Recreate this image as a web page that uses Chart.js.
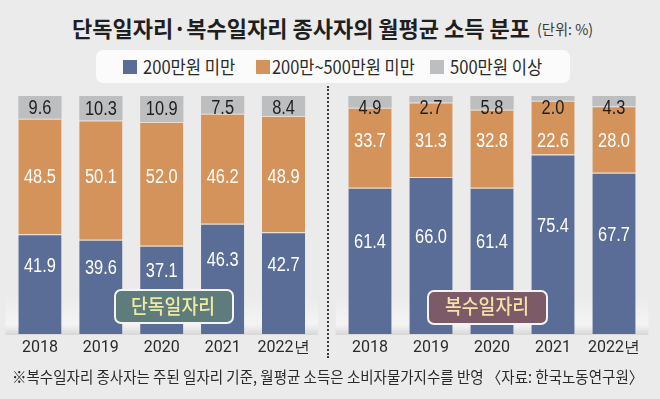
<!DOCTYPE html>
<html>
<head>
<meta charset="utf-8">
<script src="https://cdn.jsdelivr.net/npm/chart.js@4"></script>
<style>
  body { margin: 0; width: 660px; height: 399px; background: #ebebeb; position: relative; overflow: hidden; font-family: "Noto Sans CJK KR", sans-serif; }
  .txt { position: absolute; white-space: nowrap; transform-origin: 0 0; z-index: 3; }
  .wrap { position: absolute; top: 85px; width: 330px; height: 290px; z-index: 1; }
  #legend { position: absolute; left: 96px; top: 50px; width: 474px; height: 33px; background: #fbfbfb; border-radius: 7px; }
  .swatch { position: absolute; width: 14px; height: 14px; top: 60px; }
  .tag { position: absolute; height: 31px; border: 2px solid #f4f4f4; border-radius: 7px; z-index: 2; }
  #sep { position: absolute; left: 327px; top: 86px; height: 272px; border-left: 2px dotted #3a3a3a; }
</style>
</head>
<body>
<div id="legend"></div>
<div class="tag" style="left:114px;top:289px;width:116px;background:#5e7c7b"></div>
<div class="tag" style="left:427px;top:290px;width:117px;background:#7d5a68"></div>
<div class="wrap" style="left:0"><canvas id="solo"></canvas></div>
<div class="wrap" style="left:330px"><canvas id="multi"></canvas></div>
<div id="sep"></div>

<script>
// data
const years = ["2018", "2019", "2020", "2021", "2022년"];
const seriesNames = ["200만원 미만", "200만~500만원 미만", "500만원 이상"];
const groupNames = ["단독일자리", "복수일자리"];
const soloUnder200 = [41.9, 39.6, 37.1, 46.3, 42.7];
const solo200to500 = [48.5, 50.1, 52.0, 46.2, 48.9];
const solo500plus = [9.6, 10.3, 10.9, 7.5, 8.4];
const multiUnder200 = [61.4, 66.0, 61.4, 75.4, 67.7];
const multi200to500 = [33.7, 31.3, 32.8, 22.6, 28.0];
const multi500plus = [4.9, 2.7, 5.8, 2.0, 4.3];

const colors = ["#5a6d97", "#d4935a", "#bdbec0"];
const labelColors = ["#ffffff", "#ffffff", "#1e1e1e"];

// html text, squeezed to the width it has in the picture
function place(text, x, cy, size, weight, color, width) {
  const el = document.createElement("span");
  el.className = "txt";
  el.textContent = text;
  el.style.left = x + "px";
  el.style.top = (cy - size * 0.56) + "px";
  el.style.fontSize = size + "px";
  el.style.lineHeight = size + "px";
  el.style.fontWeight = weight;
  el.style.color = color;
  document.body.appendChild(el);
  el.style.transform = "scaleX(" + (width / el.offsetWidth) + ")";
  return el;
}

place("단독일자리·복수일자리  종사자의 월평균 소득 분포", 72, 28, 22, 700, "#1f1f1f", 458);
place("(단위: %)", 537, 29, 15, 400, "#3a3a3a", 56);

// legend
const legendPos = [[123, 143, 92], [256, 272, 143], [430, 450, 92]];
seriesNames.forEach((name, i) => {
  const [sx, tx, w] = legendPos[i];
  const sw = document.createElement("div");
  sw.className = "swatch";
  sw.style.left = sx + "px";
  sw.style.background = colors[i];
  document.body.appendChild(sw);
  place(name, tx, 67, 18, 400, "#2a2a2a", w);
});

place(groupNames[0], 131, 307, 20, 500, "#efe9a2", 84);
place(groupNames[1], 445, 307, 20, 500, "#f4e2a8", 84);
place("※복수일자리 종사자는 주된 일자리 기준, 월평균 소득은 소비자물가지수를 반영 〈자료: 한국노동연구원〉", 12, 377, 16, 400, "#2a2a2a", 631);

// soft platform under the bars
const platform = {
  id: "platform",
  beforeDatasetsDraw(chart) {
    const { ctx, chartArea: a } = chart;
    const g = ctx.createLinearGradient(0, a.bottom - 40, 0, a.bottom);
    g.addColorStop(0, "rgba(255,255,255,0)");
    g.addColorStop(0.75, "rgba(255,255,255,0.45)");
    g.addColorStop(1, "rgba(205,205,205,0.6)");
    ctx.save();
    ctx.fillStyle = g;
    ctx.fillRect(a.left - 4, a.bottom - 40, a.right - a.left + 8, 41);
    ctx.restore();
  }
};

// numbers on the segments
const valueLabels = {
  id: "valueLabels",
  afterDatasetsDraw(chart) {
    const { ctx, chartArea: a } = chart;
    const metas = chart.data.datasets.map((d, i) => chart.getDatasetMeta(i));
    const mid = metas[1].data;
    const rowY = mid.reduce((s, b) => s + (b.y + b.base) / 2, 0) / mid.length;
    ctx.save();
    ctx.font = '20px "Liberation Sans"';
    ctx.textAlign = "center";
    ctx.textBaseline = "middle";
    metas.forEach((meta, di) => {
      meta.data.forEach((bar, i) => {
        const v = chart.data.datasets[di].data[i];
        let y;
        if (di === 0) y = (bar.y + a.bottom - 38) / 2;
        else if (di === 1) y = rowY;
        else y = Math.max((bar.y + bar.base) / 2, bar.y + 11);
        ctx.fillStyle = labelColors[di];
        ctx.save();
        ctx.translate(bar.x, y + 1);
        ctx.scale(0.82, 1);
        ctx.fillText(v.toFixed(1), 0, 0);
        ctx.restore();
      });
    });
    ctx.restore();
  }
};

function makeChart(id, under, mid, over, padLeft, padRight) {
  const sets = [under, mid, over];
  return new Chart(document.getElementById(id), {
    type: "bar",
    data: {
      labels: years,
      datasets: sets.map((data, i) => ({
        label: seriesNames[i],
        data: data,
        backgroundColor: colors[i],
        borderColor: "#eadbcc",
        borderWidth: i < 2 ? { top: 1 } : 0,
        borderSkipped: "start",
        barPercentage: 0.71,
        categoryPercentage: 1,
      })),
    },
    options: {
      responsive: true,
      maintainAspectRatio: false,
      animation: false,
      layout: { padding: { left: padLeft, right: padRight, top: 11, bottom: 13.8 } },
      plugins: { legend: { display: false }, tooltip: { enabled: false } },
      scales: {
        x: {
          stacked: true,
          grid: { display: false, drawTicks: false },
          border: { display: false },
          ticks: { color: "#2a2a2a", padding: 4, font: { size: 16, family: "Roboto" } },
        },
        y: { stacked: true, min: 0, max: 100, display: false },
      },
    },
    plugins: [platform, valueLabels],
  });
}

makeChart("solo", soloUnder200, solo200to500, solo500plus, 9.5, 16);
makeChart("multi", multiUnder200, multi200to500, multi500plus, 9.5, 15.5);
</script>
</body>
</html>
